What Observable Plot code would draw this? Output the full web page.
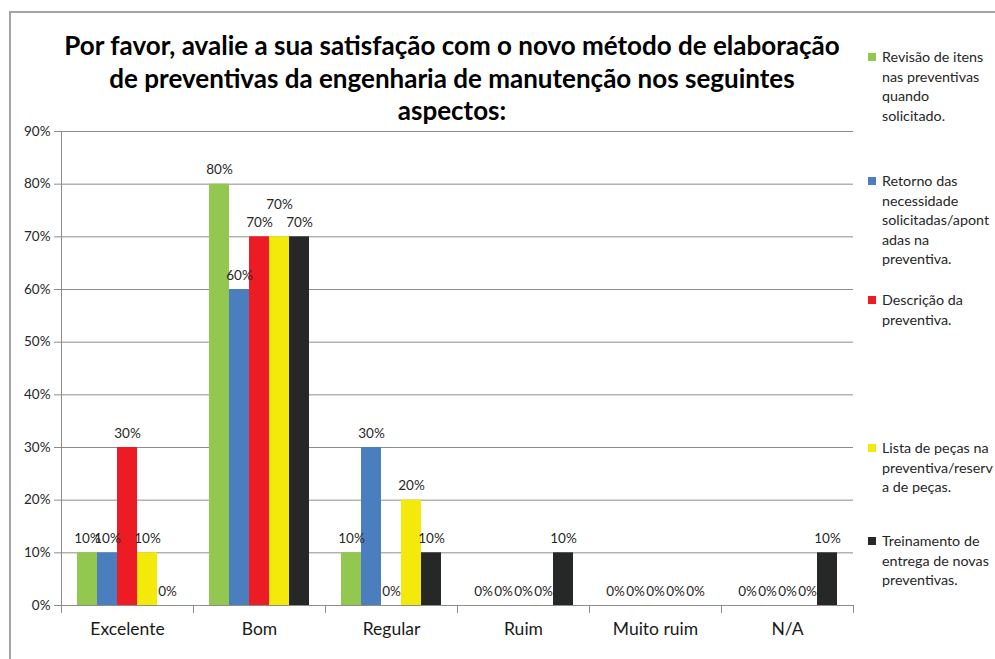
<!DOCTYPE html>
<html>
<head>
<meta charset="utf-8">
<script src="https://cdn.jsdelivr.net/npm/d3@7"></script>
<script src="https://cdn.jsdelivr.net/npm/@observablehq/plot@0.6"></script>
<style>
  html, body { margin: 0; padding: 0; background: #fff; }
  #wrap { position: relative; width: 995px; height: 659px; overflow: hidden; font-family: Lato, "Open Sans", sans-serif; }
  #border { position: absolute; left: 9px; top: 11px; width: 1000px; height: 700px; border-left: 2px solid #a3a3a3; border-top: 2px solid #a3a3a3; }
  #title { position: absolute; left: 52px; width: 800px; top: 29px; text-align: center; font-weight: bold; font-size: 26px; line-height: 32.5px; color: #000; white-space: nowrap; }
  #chart { position: absolute; left: 0; top: 110px; }
  .lg { position: absolute; left: 868px; font-size: 14.3px; line-height: 19.5px; color: #262626; white-space: nowrap; }
  .lg .sw { position: absolute; left: 0; top: 6px; width: 8px; height: 8px; }
  .lg .tx { margin-left: 14px; }
</style>
</head>
<body>
<div id="wrap">
  <div id="border"></div>
  <div id="title"></div>
  <div id="chart"></div>
  <div id="legend"></div>
</div>
<script>
const titleLines = [
  "Por favor, avalie a sua satisfação com o novo método de elaboração",
  "de preventivas da engenharia de manutenção nos seguintes",
  "aspectos:"
];
const categories = ["Excelente", "Bom", "Regular", "Ruim", "Muito ruim", "N/A"];
const series = [
  "Revisão de itens nas preventivas quando solicitado.",
  "Retorno das necessidade solicitadas/apontadas na preventiva.",
  "Descrição da preventiva.",
  "Lista de peças na preventiva/reserva de peças.",
  "Treinamento de entrega de novas preventivas."
];
const legendLines = [
  ["Revisão de itens", "nas preventivas", "quando", "solicitado."],
  ["Retorno das", "necessidade", "solicitadas/apont", "adas na", "preventiva."],
  ["Descrição da", "preventiva."],
  ["Lista de peças na", "preventiva/reserv", "a de peças."],
  ["Treinamento de", "entrega de novas", "preventivas."]
];
const colors = ["#92C850", "#4A7EBF", "#ED1C24", "#F3EA0C", "#262827"];
// values per series, in category order
const revisao     = [0.10, 0.80, 0.10, 0.00, 0.00, 0.00];
const retorno     = [0.10, 0.60, 0.30, 0.00, 0.00, 0.00];
const descricao   = [0.30, 0.70, 0.00, 0.00, 0.00, 0.00];
const listaPecas  = [0.10, 0.70, 0.20, 0.00, 0.00, 0.00];
const treinamento = [0.00, 0.70, 0.10, 0.10, 0.00, 0.10];
const yTicks = [0, 0.1, 0.2, 0.3, 0.4, 0.5, 0.6, 0.7, 0.8, 0.9];

const seriesValues = [revisao, retorno, descricao, listaPecas, treinamento];
const data = [];
categories.forEach((c, ci) => series.forEach((s, si) => data.push({cat: c, series: s, value: seriesValues[si][ci]})));

document.getElementById("title").innerHTML = titleLines.join("<br>");

const legendTops = [47, 171, 290, 438, 531];
const lg = document.getElementById("legend");
series.forEach((s, i) => {
  const d = document.createElement("div");
  d.className = "lg";
  d.style.top = legendTops[i] + "px";
  d.innerHTML = `<span class="sw" style="background:${colors[i]}"></span><div class="tx">${legendLines[i].join("<br>")}</div>`;
  lg.appendChild(d);
});

const pct = d3.format(".0%");
const raised = d => d.cat === "Bom" && d.series === series[3];

const chart = Plot.plot({
  width: 873,
  height: 549,
  marginLeft: 61,
  marginRight: 20,
  marginTop: 21,
  marginBottom: 54,
  style: {fontFamily: "Lato, 'Open Sans', sans-serif", color: "#262626", background: "transparent"},
  fx: {domain: categories, padding: 0, label: null},
  x: {domain: series, paddingInner: 0, paddingOuter: 0.69, axis: null},
  y: {domain: [0, 0.9], label: null},
  color: {domain: series, range: colors},
  marks: [
    Plot.gridY(yTicks, {stroke: "#8c8c8c", strokeOpacity: 1}),
    Plot.frame({anchor: "left", facetAnchor: "left", stroke: "#8c8c8c"}),
    Plot.frame({anchor: "left", insetTop: 474, insetBottom: -7, stroke: "#8c8c8c"}),
    Plot.frame({anchor: "right", facetAnchor: "right", insetTop: 474, insetBottom: -7, stroke: "#8c8c8c"}),
    Plot.barY(data, {fx: "cat", x: "series", y: "value", fill: "series", inset: 0}),
    Plot.text(data.filter(d => !raised(d)), {fx: "cat", x: "series", y: "value", text: d => pct(d.value), dy: -14, fontSize: 13.5, fill: "#262626"}),
    Plot.text(data.filter(raised), {fx: "cat", x: "series", y: "value", text: d => pct(d.value), dy: -32, fontSize: 13.5, fill: "#262626"}),
    Plot.axisY({ticks: yTicks, tickFormat: pct, tickSize: 7, tickPadding: 4, fontSize: 13.5, stroke: "#8c8c8c", fill: "#262626", label: null}),
    Plot.axisFx({anchor: "bottom", tickSize: 0, tickPadding: 17, fontSize: 17.5, fill: "#1a1a1a", label: null})
  ]
});
document.getElementById("chart").appendChild(chart);
</script>
</body>
</html>
